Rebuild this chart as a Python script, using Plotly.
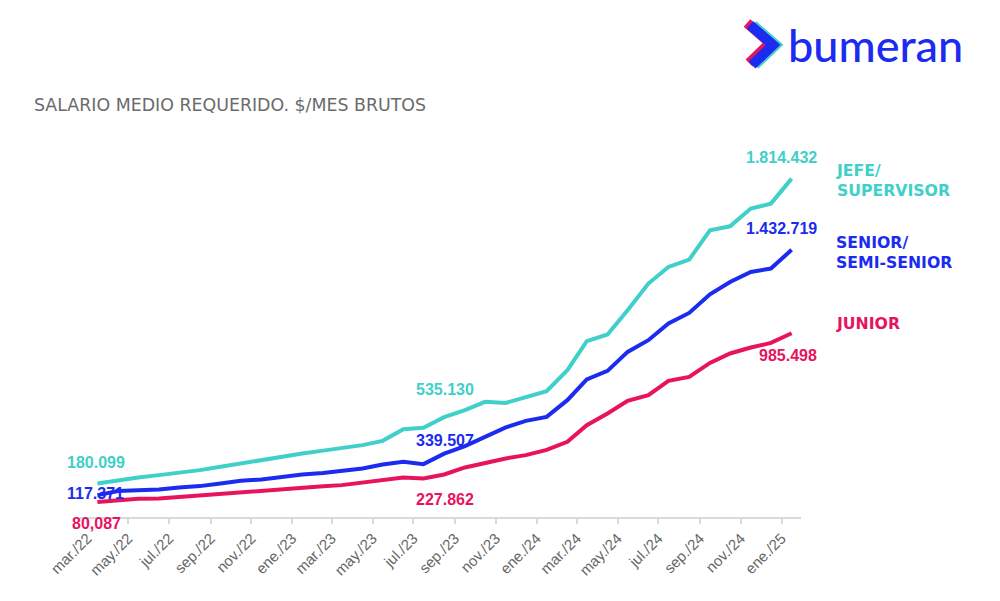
import pandas as pd
import plotly.graph_objects as go

# Monthly series, mar/22 .. ene/25
months = pd.date_range("2022-03-01", periods=35, freq="MS")

jefe = [
    180099, 197700, 212200, 224500, 236800, 251300, 269000, 287200, 304900,
    322600, 340800, 355800, 367600, 385300, 408300, 471000, 478000, 535130,
    572800, 617300, 611900, 644100, 674600, 787200, 942600, 978500, 1108700,
    1251800, 1340700, 1380400, 1537400, 1558800, 1653600, 1680400, 1814432,
]
senior = [
    117371, 138800, 144100, 147900, 158600, 165600, 180000, 194000, 201500,
    215400, 228300, 236300, 246000, 260400, 281900, 295800, 283500, 339507,
    379900, 429800, 480100, 515500, 536900, 626400, 737300, 783400, 885200,
    947900, 1037400, 1094200, 1194400, 1260300, 1313900, 1332100, 1432719,
]
junior = [
    80087, 90600, 97500, 99700, 108200, 113600, 122700, 129700, 138800,
    147900, 158600, 164500, 170900, 185400, 197700, 212200, 206800, 227862,
    265800, 290400, 314000, 331700, 360100, 403000, 492400, 555100, 622700,
    653200, 729800, 751300, 826300, 876700, 908800, 933400, 985498,
]

tick_labels = [
    "mar./22", "may./22", "jul./22", "sep./22", "nov./22",
    "ene./23", "mar./23", "may./23", "jul./23", "sep./23", "nov./23",
    "ene./24", "mar./24", "may./24", "jul./24", "sep./24", "nov./24",
    "ene./25",
]

series_names = ["JEFE/<br>SUPERVISOR", "SENIOR/<br>SEMI-SENIOR", "JUNIOR"]

COLOR_JEFE = "#3FD0C9"
COLOR_SENIOR = "#1B2CF0"
COLOR_JUNIOR = "#E8135F"
COLOR_AXIS = "#D9D9D9"
COLOR_TICK = "#666666"

# Points sit in the middle of each month, ticks at the month start
x_mid = months + pd.Timedelta(days=15)

# page body has an 8px margin, so the figure is a bit smaller than the window
OFF = 8
W, H = 992, 593
L, R, T, B = 72, 199, 136, 84


def px(xp, yp):
    """Convert page pixels to paper coordinates."""
    xp, yp = xp - OFF, yp - OFF
    return (xp - L) / (W - L - R), (H - B - yp) / (H - T - B)


def fmt(v):
    return f"{v:,}".replace(",", ".")


fig = go.Figure()

for vals, color in [(jefe, COLOR_JEFE), (senior, COLOR_SENIOR), (junior, COLOR_JUNIOR)]:
    fig.add_trace(
        go.Scatter(
            x=x_mid,
            y=vals,
            mode="lines",
            line={"color": color, "width": 4},
            showlegend=False,
            hoverinfo="skip",
        )
    )

# value labels: (series, index, text, xshift, yshift, xanchor, colour)
labels = [
    (jefe, 0, fmt(jefe[0]), -1, 21, "center", COLOR_JEFE),
    (senior, 0, fmt(senior[0]), -2, 2, "center", COLOR_SENIOR),
    (junior, 0, fmt(junior[0]).replace(".", ","), -1, -21, "center", COLOR_JUNIOR),
    (jefe, 17, fmt(jefe[17]), 1, 28, "center", COLOR_JEFE),
    (senior, 17, fmt(senior[17]), 1, 13, "center", COLOR_SENIOR),
    (junior, 17, fmt(junior[17]), 1, -25, "center", COLOR_JUNIOR),
    (jefe, 34, fmt(jefe[34]), 27, 21, "right", COLOR_JEFE),
    (senior, 34, fmt(senior[34]), 27, 21, "right", COLOR_SENIOR),
    (junior, 34, fmt(junior[34]), 27, -22, "right", COLOR_JUNIOR),
]
for vals, i, text, xs, ys, anchor, color in labels:
    fig.add_annotation(
        x=x_mid[i], y=vals[i], text=f"<b>{text}</b>", showarrow=False,
        xanchor=anchor, yanchor="middle", xshift=xs, yshift=ys,
        font={"family": "Liberation Sans, Arial", "size": 16, "color": color},
    )

# series names on the right
for vals, name, ys, color in [
    (jefe, series_names[0], -2, COLOR_JEFE),
    (senior, series_names[1], -3, COLOR_SENIOR),
    (junior, series_names[2], 10, COLOR_JUNIOR),
]:
    fig.add_annotation(
        x=x_mid[-1], y=vals[-1], text=f"<b>{name}</b>", showarrow=False,
        xanchor="left", yanchor="middle", align="left", xshift=42, yshift=ys,
        font={"family": "DejaVu Sans", "size": 15.7, "color": color},
    )

# title
tx, ty = px(32, 105)
fig.add_annotation(
    xref="paper", yref="paper", x=tx, y=ty, text="SALARIO MEDIO REQUERIDO. $/MES BRUTOS",
    showarrow=False, xanchor="left", yanchor="middle",
    font={"family": "DejaVu Sans", "size": 17.4, "color": "#6B6B6B"},
)

# logo: chevron + wordmark
for dx, dy, color in [(-3, -2, COLOR_JUNIOR), (3, 0, COLOR_JEFE), (0, 0, COLOR_SENIOR)]:
    p1 = px(750 + dx, 25 + dy)
    p2 = px(773 + dx, 45 + dy)
    p3 = px(752 + dx, 65 + dy)
    fig.add_shape(
        type="path", xref="paper", yref="paper",
        path=f"M {p1[0]},{p1[1]} L {p2[0]},{p2[1]} L {p3[0]},{p3[1]}",
        line={"color": color, "width": 10},
    )
bx, by = px(786, 45)
fig.add_annotation(
    xref="paper", yref="paper", x=bx, y=by, text="bumeran", showarrow=False,
    xanchor="left", yanchor="middle",
    font={"family": "Lato", "size": 45, "color": COLOR_SENIOR, "weight": 500},
)

fig.update_layout(
    width=W,
    height=H,
    plot_bgcolor="white",
    paper_bgcolor="white",
    margin={"l": L, "r": R, "t": T, "b": B, "pad": 0},
    showlegend=False,
    xaxis={
        "type": "date",
        "range": ["2022-02-18", "2025-01-30"],
        "tickvals": months[::2],
        "ticktext": tick_labels,
        "tickangle": -45,
        "ticks": "outside",
        "ticklen": 5,
        "tickcolor": COLOR_AXIS,
        "tickwidth": 1.5,
        "showline": True,
        "linecolor": COLOR_AXIS,
        "linewidth": 1.5,
        "showgrid": False,
        "zeroline": False,
        "tickfont": {"family": "Liberation Sans, Arial", "size": 15, "color": COLOR_TICK},
    },
    yaxis={
        "range": [0, 2000000],
        "visible": False,
        "showgrid": False,
        "zeroline": False,
    },
)

fig.write_html("out.html")
